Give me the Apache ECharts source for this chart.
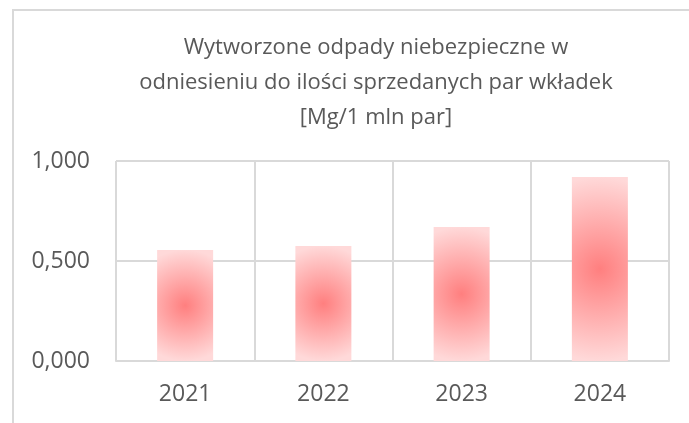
<!DOCTYPE html>
<html>
<head>
<meta charset="utf-8">
<script src="https://cdn.jsdelivr.net/npm/echarts@6/dist/echarts.min.js"></script>
<style>
html,body{margin:0;padding:0;background:#fff;}
#chart{width:689px;height:423px;}
</style>
</head>
<body>
<div id="chart"></div>
<script>
const titleLines = ['Wytworzone odpady niebezpieczne w', 'odniesieniu do ilości sprzedanych par wkładek', '[Mg/1 mln par]'];
const categories = ['2021', '2022', '2023', '2024'];
const values = [0.555, 0.575, 0.670, 0.920];
const yTicks = ['0,000', '0,500', '1,000'];

const FONT = '"Open Sans", sans-serif';
const TXT = '#595959';
const LINE = '#d9d9d9';

const chart = echarts.init(document.getElementById('chart'), null, {renderer: 'canvas'});

function barStyle(v) {
  // radial gradient; radius relative to bar width, stretched to reach top/bottom
  const r = Math.max(0.5, v * 100 / 56);
  return {
    color: {
      type: 'radial', x: 0.5, y: 0.5, r: r,
      colorStops: [
        {offset: 0, color: '#ff7f7f'},
        {offset: 1, color: '#ffd9d9'}
      ]
    }
  };
}

const option = {
  backgroundColor: '#ffffff',
  animation: false,
  title: {
    text: titleLines.join('\n'),
    left: 371,
    top: 25,
    textAlign: 'center',
    textStyle: {
      fontFamily: FONT, fontSize: 22, fontWeight: 'normal', color: TXT, lineHeight: 35
    }
  },
  graphic: [{
    type: 'polyline',
    shape: {points: [[13, 423], [13, 10], [689, 10]]},
    style: {stroke: LINE, lineWidth: 2, fill: null},
    silent: true
  }],
  grid: {left: 116, right: 20, top: 161, bottom: 62},
  xAxis: {
    type: 'category',
    data: categories,
    axisLine: {show: true, lineStyle: {color: LINE, width: 2}},
    axisTick: {show: false},
    splitLine: {show: true, interval: 0, lineStyle: {color: LINE, width: 2}},
    axisLabel: {fontFamily: FONT, fontSize: 23, color: TXT, margin: 22}
  },
  yAxis: {
    type: 'value',
    min: 0, max: 1, interval: 0.5,
    axisLine: {show: false},
    axisTick: {show: false},
    splitLine: {show: true, lineStyle: {color: LINE, width: 2}},
    axisLabel: {
      fontFamily: FONT, fontSize: 23, color: TXT, margin: 26,
      formatter: function (v) { return yTicks[Math.round(v / 0.5)]; }
    }
  },
  series: [{
    type: 'bar',
    barWidth: 56,
    data: values.map(v => ({value: v, itemStyle: barStyle(v)}))
  }]
};
chart.setOption(option);
</script>
</body>
</html>
